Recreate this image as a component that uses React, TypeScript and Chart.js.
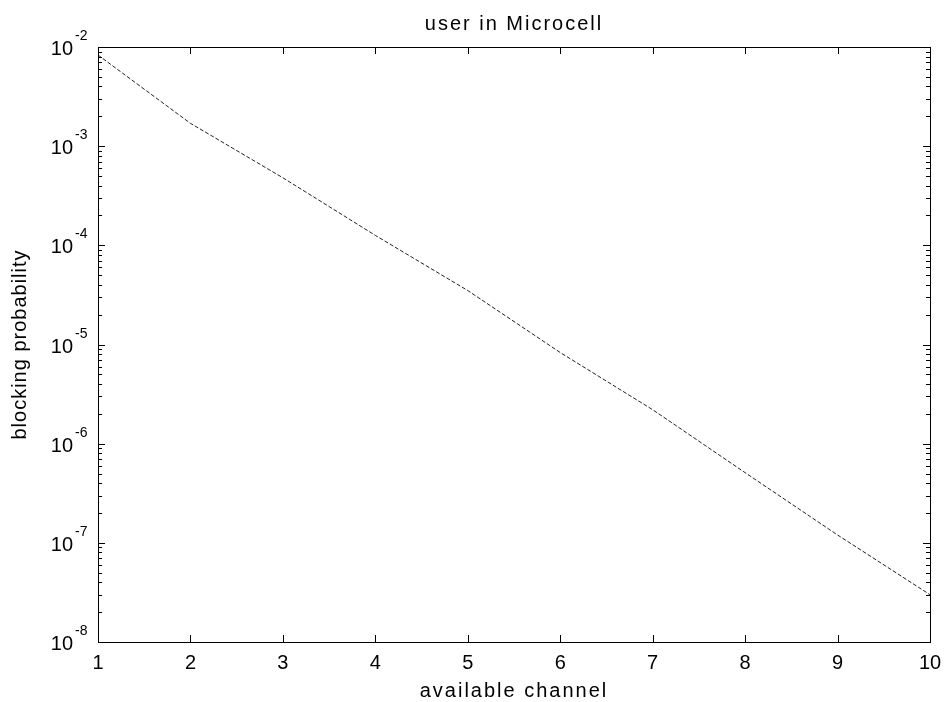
import React, { useEffect, useRef } from "react";
import { Chart, registerables } from "chart.js";

Chart.register(...registerables);

const channels = [1, 2, 3, 4, 5, 6, 7, 8, 9, 10];
const blocking = [8.3e-3, 1.7e-3, 4.8e-4, 1.26e-4, 3.5e-5, 8.3e-6, 2.2e-6, 5.1e-7, 1.2e-7, 3.0e-8];
const yDecades = [-8, -7, -6, -5, -4, -3, -2];
const xTicks = [1, 2, 3, 4, 5, 6, 7, 8, 9, 10];

const titleText = "user in Microcell";
const xLabel = "available channel";
const yLabel = "blocking probability";
const FONT = '"Liberation Sans", Arial, Helvetica, sans-serif';

const decorPlugin = {
  id: "decor",
  afterDraw(chart: any) {
    const { ctx, chartArea } = chart;
    const xs = chart.scales.x;
    const ys = chart.scales.y;
    const { left, right, top, bottom } = chartArea;
    ctx.save();
    ctx.strokeStyle = "#000";
    ctx.lineWidth = 1;
    // frame
    ctx.strokeRect(Math.round(left) + 0.5, Math.round(top) + 0.5, Math.round(right - left), Math.round(bottom - top));
    // x ticks (top and bottom, inward)
    ctx.beginPath();
    for (const v of xTicks) {
      const px = Math.round(xs.getPixelForValue(v)) + 0.5;
      ctx.moveTo(px, bottom);
      ctx.lineTo(px, bottom - 7);
      ctx.moveTo(px, top);
      ctx.lineTo(px, top + 7);
    }
    // y ticks major and minor
    for (const d of yDecades) {
      const base = Math.pow(10, d);
      const py = Math.round(ys.getPixelForValue(base)) + 0.5;
      ctx.moveTo(left, py);
      ctx.lineTo(left + 7, py);
      ctx.moveTo(right, py);
      ctx.lineTo(right - 7, py);
      if (d < -2) {
        for (let m = 2; m <= 9; m++) {
          const pm = Math.round(ys.getPixelForValue(base * m)) + 0.5;
          ctx.moveTo(left, pm);
          ctx.lineTo(left + 4, pm);
          ctx.moveTo(right, pm);
          ctx.lineTo(right - 4, pm);
        }
      }
    }
    ctx.stroke();

    ctx.fillStyle = "#000";
    // y tick labels with superscripts
    for (const d of yDecades) {
      const py = ys.getPixelForValue(Math.pow(10, d));
      ctx.font = `20px ${FONT}`;
      ctx.textAlign = "right";
      ctx.textBaseline = "alphabetic";
      ctx.fillText("10", 73, py + 8);
      ctx.font = `14px ${FONT}`;
      ctx.textAlign = "left";
      ctx.fillText(String(d), 75, py - 7);
    }

    // title
    const cx = (left + right) / 2;
    (ctx as any).letterSpacing = "2px";
    ctx.font = `20px ${FONT}`;
    ctx.textAlign = "center";
    ctx.textBaseline = "alphabetic";
    ctx.fillText(titleText, cx, 30);
    // x label
    ctx.fillText(xLabel, cx, 697);
    // y label
    (ctx as any).letterSpacing = "1px";
    ctx.translate(26, (top + bottom) / 2);
    ctx.rotate(-Math.PI / 2);
    ctx.fillText(yLabel, 0, 0);
    ctx.restore();
  },
};

export default function App() {
  const canvasRef = useRef<HTMLCanvasElement | null>(null);

  useEffect(() => {
    if (!canvasRef.current) return;
    const chart = new Chart(canvasRef.current, {
      type: "line",
      data: {
        datasets: [
          {
            data: channels.map((c, i) => ({ x: c, y: blocking[i] })),
            borderColor: "#222",
            borderWidth: 1,
            borderDash: [4, 2],
            pointRadius: 0,
            fill: false,
            tension: 0,
          },
        ],
      },
      options: {
        animation: false,
        responsive: false,
        maintainAspectRatio: false,
        layout: { padding: { top: 47, right: 22, left: 0, bottom: 0 } },
        plugins: {
          legend: { display: false },
          title: { display: false },
          tooltip: { enabled: false },
        },
        scales: {
          x: {
            type: "linear",
            min: 1,
            max: 10,
            afterFit: (s: any) => {
              s.height = 60;
            },
            afterBuildTicks: (s: any) => {
              s.ticks = xTicks.map((v) => ({ value: v }));
            },
            grid: { display: false, drawTicks: false },
            border: { display: false },
            ticks: {
              color: "#000",
              font: { family: FONT, size: 20 },
              padding: 9,
              maxRotation: 0,
              autoSkip: false,
            },
          },
          y: {
            type: "logarithmic",
            min: 1e-8,
            max: 1e-2,
            afterFit: (s: any) => {
              s.width = 98;
            },
            grid: { display: false, drawTicks: false },
            border: { display: false },
            ticks: { display: false },
          },
        },
      },
      plugins: [decorPlugin],
    });
    return () => chart.destroy();
  }, []);

  return (
    <div style={{ position: "absolute", left: 0, top: 0, width: 952, height: 702, background: "#fff" }}>
      <canvas ref={canvasRef} width={952} height={702} style={{ width: 952, height: 702, display: "block" }} />
    </div>
  );
}
